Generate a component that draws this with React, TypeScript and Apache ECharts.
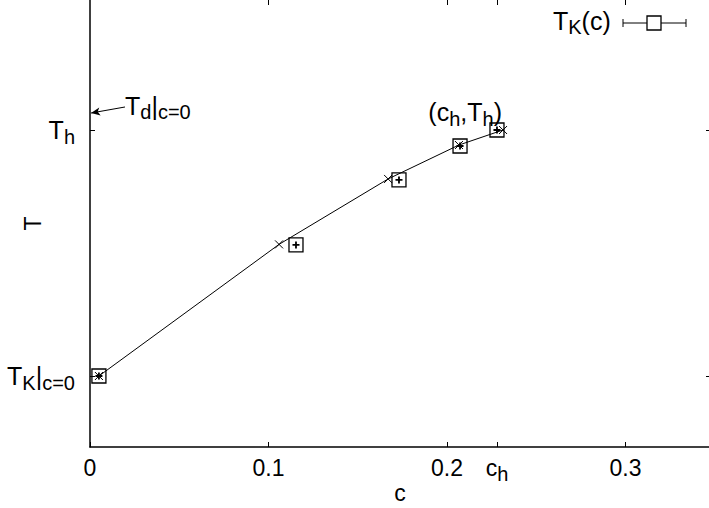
import React, { useEffect, useRef } from "react";
import * as echarts from "echarts";

// Data (T normalised: T_K|c=0 = 0, T_h = 1)
const crossC = [0.005, 0.1059, 0.167, 0.2067, 0.2314];
const crossT = [0.0, 0.535, 0.801, 0.939, 1.0];
const boxC = [0.005, 0.1154, 0.1731, 0.2073, 0.228];
const boxT = [0.0, 0.533, 0.797, 0.935, 1.0];
const xTicks = [0, 0.1, 0.2, 0.228, 0.3];
const xTopTicks = [0.1, 0.2, 0.228, 0.3];
const yTicks = [0, 1];
const cH = 0.228;
const tH = 1;
const tdC0 = 1.069;
const arrowStart = [0.0196, 1.0935];

const FONT = "'Liberation Sans', Arial, Helvetica, sans-serif";
const NUM = 23;
const BIG = 25;
const SUB = 20;

const rich = {
  n: { fontSize: NUM, fontFamily: FONT, color: "#000", lineHeight: 25 },
  t: { fontSize: BIG, fontFamily: FONT, color: "#000", lineHeight: 26 },
  s: { fontSize: SUB, fontFamily: FONT, color: "#000", lineHeight: 20, padding: [13, 0, 0, 0] },
};

export default function App() {
  const ref = useRef<HTMLDivElement>(null);
  useEffect(() => {
    if (!ref.current) return;
    const chart = echarts.init(ref.current, null, { renderer: "svg" });
    const crossData = crossC.map((c, i) => [c, crossT[i]]);
    const boxData = boxC.map((c, i) => [c, boxT[i]]);
    chart.setOption({
      animation: false,
      backgroundColor: "#fff",
      grid: { left: 90, top: 0, width: 620, height: 447, containLabel: false, outerBoundsMode: "none" },
      xAxis: [
        {
          type: "value",
          min: 0,
          max: 620 / 1785,
          position: "bottom",
          name: "c",
          nameLocation: "middle",
          nameGap: 34,
          nameMoveOverlap: false,
          nameTextStyle: { fontSize: NUM, fontFamily: FONT, color: "#000" },
          axisLine: { show: true, onZero: false, lineStyle: { color: "#000", width: 1.5 } },
          axisTick: { show: true, inside: true, length: 5, customValues: xTicks, lineStyle: { color: "#000", width: 1 } },
          axisLabel: {
            show: true,
            margin: 8,
            customValues: xTicks,
            rich,
            formatter: (v: number) =>
              Math.abs(v - cH) < 1e-6 ? "{n|c}{s|h}" : "{n|" + (v === 0 ? "0" : v.toFixed(1)) + "}",
          },
          splitLine: { show: false },
        },
        {
          type: "value",
          min: 0,
          max: 620 / 1785,
          position: "top",
          axisLine: { show: false, onZero: false },
          axisTick: { show: true, inside: true, length: 5, customValues: xTopTicks, lineStyle: { color: "#000", width: 1 } },
          axisLabel: { show: false },
          splitLine: { show: false },
        },
      ],
      yAxis: [
        {
          type: "value",
          min: -71 / 246,
          max: 376 / 246,
          position: "left",
          name: "T",
          nameLocation: "middle",
          nameRotate: 90,
          nameGap: 46,
          nameMoveOverlap: false,
          nameTextStyle: { fontSize: NUM, fontFamily: FONT, color: "#000" },
          axisLine: { show: true, onZero: false, lineStyle: { color: "#000", width: 1.5 } },
          axisTick: { show: true, inside: true, length: 5, customValues: yTicks, lineStyle: { color: "#000", width: 1 } },
          axisLabel: {
            show: true,
            margin: 15,
            customValues: yTicks,
            rich,
            formatter: (v: number) => (v === 1 ? "{t|T}{s|h}" : "{t|T}{s|K}{t||}{s|c=0}"),
          },
          splitLine: { show: false },
        },
        {
          type: "value",
          min: -71 / 246,
          max: 376 / 246,
          position: "right",
          axisLine: { show: false, onZero: false },
          axisTick: { show: true, inside: true, length: 4, customValues: yTicks, lineStyle: { color: "#000", width: 1 } },
          axisLabel: { show: false },
          splitLine: { show: false },
        },
      ],
      series: [
        {
          type: "line",
          data: crossData,
          symbol: "path://M-1,-1L1,1M-1,1L1,-1",
          symbolSize: 8,
          showSymbol: true,
          lineStyle: { color: "#000", width: 1 },
          itemStyle: { color: "transparent", borderColor: "#000", borderWidth: 1, opacity: 1 },
          markLine: {
            silent: true,
            symbol: ["none", "arrow"],
            symbolSize: [6, 9],
            lineStyle: { color: "#000", width: 1, type: "solid" },
            label: { show: false },
            data: [[{ coord: arrowStart }, { coord: [0.0006, tdC0] }]],
          },
          z: 3,
        },
        {
          type: "scatter",
          data: boxData,
          symbol: "rect",
          symbolSize: 14,
          itemStyle: { color: "transparent", borderColor: "#000", borderWidth: 1.3, opacity: 1 },
          z: 4,
        },
        {
          type: "scatter",
          data: boxData,
          symbol: "path://M0,-1L0,1M-1,0L1,0",
          symbolSize: 7,
          itemStyle: { color: "transparent", borderColor: "#000", borderWidth: 1.8, opacity: 1 },
          z: 5,
        },
        {
          type: "scatter",
          data: [[cH, tH]],
          symbolSize: 0,
          itemStyle: { opacity: 1 },
          label: {
            show: true,
            position: "left",
            offset: [10, -18],
            color: "#000",
            rich,
            formatter: "{t|(c}{s|h}{t|,T}{s|h}{t|)}",
          },
          z: 6,
        },
      ],
      graphic: [
        {
          type: "text",
          left: 125,
          top: 89,
          style: {
            text: "{t|T}{s|d}{t||}{s|c=0}",
            rich,
          },
        },
        {
          type: "text",
          left: 553,
          top: 4,
          style: { text: "{t|T}{s|K}{t|(c)}", rich },
        },
        { type: "line", shape: { x1: 623, y1: 23, x2: 686, y2: 23 }, style: { stroke: "#000", lineWidth: 1 } },
        { type: "line", shape: { x1: 623, y1: 19, x2: 623, y2: 27 }, style: { stroke: "#000", lineWidth: 1 } },
        { type: "line", shape: { x1: 686, y1: 19, x2: 686, y2: 27 }, style: { stroke: "#000", lineWidth: 1 } },
        { type: "rect", shape: { x: 647, y: 16, width: 14, height: 14 }, style: { stroke: "#000", fill: "#fff", lineWidth: 1.3 } },
      ],
    });
    return () => chart.dispose();
  }, []);
  return (
    <div
      ref={ref}
      style={{ position: "fixed", left: 0, top: 0, width: 709, height: 508, background: "#fff" }}
    />
  );
}
